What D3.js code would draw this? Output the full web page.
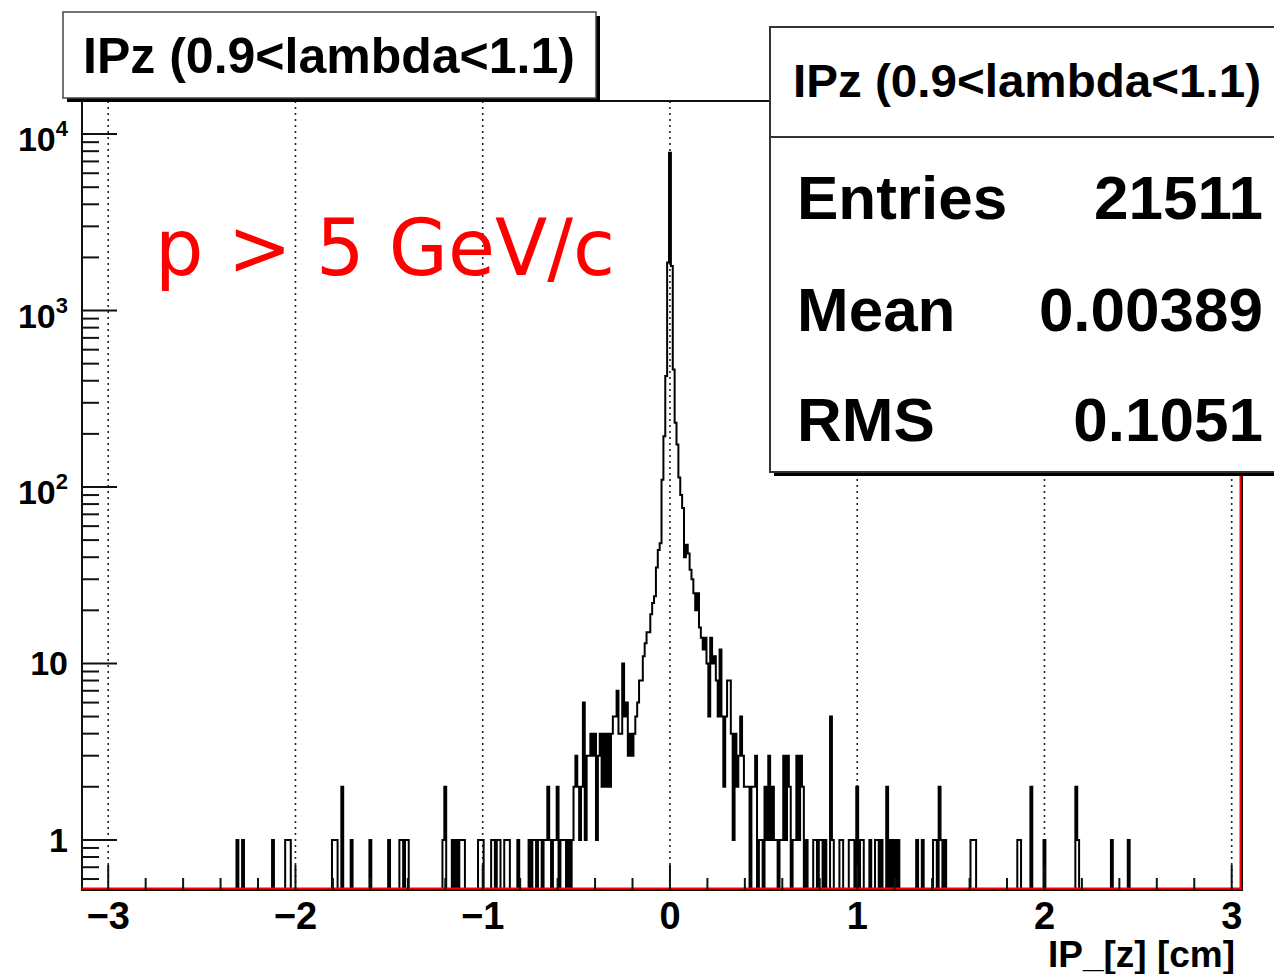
<!DOCTYPE html>
<html><head><meta charset="utf-8">
<script src="https://cdn.jsdelivr.net/npm/d3@7"></script>
<style>body{margin:0;background:#fff;} svg{display:block;}</style>
</head><body>
<svg id="c" width="1274" height="974"></svg>
<script>
// ---- data (bin centers in cm, counts) ----
const binCenters = [-2.31,-2.28,-2.12,-2.05,-2.04,-2.03,-1.80,-1.79,-1.78,-1.75,-1.70,-1.60,-1.50,-1.44,-1.43,-1.41,-1.40,
-1.21,-1.20,-1.16,-1.14,-1.12,-1.11,-1.10,-1.02,-1.01,-1.00,-0.95,-0.94,-0.92,-0.91,-0.88,-0.87,-0.86,-0.81,-0.75,-0.73,-0.72,
-0.70,-0.69,-0.67,-0.66,-0.65,-0.64,-0.62,-0.61,-0.60,-0.58,-0.57,-0.56,-0.54,-0.52,-0.51,-0.50,-0.49,-0.48,-0.47,-0.46,-0.45,
-0.44,-0.43,-0.42,-0.41,-0.40,-0.39,-0.38,-0.37,-0.36,-0.35,-0.34,-0.33,-0.32,-0.31,-0.30,-0.29,-0.28,-0.27,-0.26,-0.25,-0.24,
-0.23,-0.22,-0.21,-0.20,-0.19,-0.18,-0.17,-0.16,-0.15,-0.14,-0.13,-0.12,-0.11,-0.10,-0.09,-0.08,-0.07,-0.06,-0.05,-0.04,-0.03,
-0.02,-0.01,0.00,0.01,0.02,0.03,0.04,0.05,0.06,0.07,0.08,0.09,0.10,0.11,0.12,0.13,0.14,0.15,0.16,0.17,0.18,0.19,0.20,0.21,0.22,
0.23,0.24,0.25,0.26,0.27,0.28,0.29,0.30,0.31,0.32,0.33,0.34,0.35,0.36,0.37,0.38,0.39,0.40,0.41,0.42,0.44,0.45,0.46,0.48,0.49,
0.51,0.52,0.53,0.54,0.55,0.56,0.57,0.59,0.60,0.61,0.62,0.63,0.64,0.66,0.67,0.68,0.69,0.70,0.71,0.73,0.77,0.78,0.80,0.81,0.83,
0.86,0.87,0.91,0.92,0.96,0.97,0.98,1.00,1.02,1.03,1.07,1.10,1.11,1.13,1.16,1.18,1.20,1.22,1.32,1.35,1.41,1.42,1.44,1.45,1.47,
1.61,1.62,1.63,1.86,1.87,1.93,2.00,2.17,2.18,2.36,2.45,2.58,2.80];
const binCounts = [1,1,1,1,1,1,1,1,1,2,1,1,1,1,1,1,1,
1,2,1,1,1,1,1,1,1,1,1,1,1,1,1,1,1,1,1,1,1,
1,1,1,1,2,1,1,1,2,1,1,1,1,1,2,3,2,1,2,6,1,
3,3,4,3,4,1,3,4,2,4,2,4,2,4,5,5,7,4,4,10,5,
6,3,4,3,4,5,6,8,8,11,13,15,15,19,22,24,35,44,48,110,194,
425,1870,7850,1786,463,231,174,113,90,76,40,47,42,34,30,25,20,25,16,14,12,14,10,5,14,
10,11,8,5,12,5,2,5,8,8,4,1,4,2,3,5,3,2,2,2,2,2,3,1,1,
2,1,3,1,2,1,1,1,1,3,1,3,2,1,1,3,1,3,2,1,1,1,1,1,1,
5,1,1,1,1,1,1,2,1,1,1,1,1,1,2,1,1,1,1,1,1,1,2,
1,1,1,1,1,1,1,2,1,2,1,1,1];
const binWidth = 0.01;
const xRange = [-3.14, 3.055];
const yRange = [0.52, 15400];
const xTicks = [-3,-2,-1,0,1,2,3];
const xTickLabels = ["\u22123","\u22122","\u22121","0","1","2","3"];
const yTicks = [1,10,100,1000,10000];
const yTickBase = ["1","10","10","10","10"];
const yTickExp = ["","","2","3","4"];
const titleText = "IPz (0.9<lambda<1.1)";
const statNames = ["Entries","Mean","RMS"];
const statValues = ["21511","0.00389","0.1051"];
const annotation = "p > 5 GeV/c";
const xTitle = "IP_[z] [cm]";

// ---- layout ----
const F = "'Liberation Sans', Arial, Helvetica, sans-serif";
const L = 82, R = 1242, T = 101, B = 890;
const svg = d3.select("#c");
const x = d3.scaleLinear().domain(xRange).range([L, R]);
const y = d3.scaleLog().domain(yRange).range([B, T]);

svg.append("defs").append("clipPath").attr("id","fr")
  .append("rect").attr("x",L).attr("y",T).attr("width",R-L).attr("height",B-T);

// grid (vertical dotted)
svg.append("g").selectAll("line").data(xTicks).join("line")
  .attr("x1",d=>x(d)).attr("x2",d=>x(d)).attr("y1",T).attr("y2",B)
  .attr("stroke","#222").attr("stroke-width",1.6).attr("stroke-dasharray","2 4");

// histogram
const countByK = new Map();
binCenters.forEach((c,i)=>countByK.set(Math.round(c/binWidth), binCounts[i]));
const kMin = Math.floor(xRange[0]/binWidth)-1, kMax = Math.ceil(xRange[1]/binWidth)+1;
const p = d3.path();
p.moveTo(x(xRange[0]), B);
for (let k=kMin;k<=kMax;k++){
  const c = countByK.get(k)||0;
  const yy = c>0 ? y(c) : B;
  p.lineTo(x((k-0.5)*binWidth), yy);
  p.lineTo(x((k+0.5)*binWidth), yy);
}
svg.append("path").attr("d",p.toString()).attr("fill","none")
  .attr("stroke","#000").attr("stroke-width",2).attr("clip-path","url(#fr)");

// frame
svg.append("rect").attr("x",L).attr("y",T).attr("width",R-L).attr("height",B-T)
  .attr("fill","none").attr("stroke","#111").attr("stroke-width",2);
// red lines (bottom & right)
svg.append("line").attr("x1",L).attr("x2",R).attr("y1",B-1.5).attr("y2",B-1.5)
  .attr("stroke","#f00").attr("stroke-width",2);
svg.append("line").attr("x1",R-1.5).attr("x2",R-1.5).attr("y1",T).attr("y2",B-1.5)
  .attr("stroke","#f00").attr("stroke-width",2);

// y ticks (inside, from left axis)
const yMinor = [];
[0.1,1,10,100,1000].forEach(dec=>{ for(let m=2;m<=9;m++){ const v=dec*m; if(v>=yRange[0]&&v<=yRange[1]) yMinor.push(v);} });
svg.append("g").selectAll("line").data(yMinor).join("line")
  .attr("x1",L).attr("x2",L+17).attr("y1",d=>y(d)).attr("y2",d=>y(d))
  .attr("stroke","#111").attr("stroke-width",2);
svg.append("g").selectAll("line").data(yTicks).join("line")
  .attr("x1",L).attr("x2",L+35).attr("y1",d=>y(d)).attr("y2",d=>y(d))
  .attr("stroke","#111").attr("stroke-width",2);
const yl = svg.append("g").selectAll("text").data(yTicks).join("text")
  .attr("x",68).attr("y",(d,i)=>y(d)+(yTickExp[i]?17:12))
  .attr("text-anchor","end").attr("font-family",F).attr("font-weight","bold").attr("font-size",34);
yl.append("tspan").text((d,i)=>yTickBase[i]);
yl.append("tspan").attr("dy",-15).attr("font-size",22).text((d,i)=>yTickExp[i]);

// x ticks (inside, upward)
const xMinor = d3.range(-15,16).map(i=>i*0.2).filter(v=>Math.abs(v-Math.round(v))>1e-6 && v>xRange[0] && v<xRange[1]);
svg.append("g").selectAll("line").data(xMinor).join("line")
  .attr("x1",d=>x(d)).attr("x2",d=>x(d)).attr("y1",B).attr("y2",B-12)
  .attr("stroke","#111").attr("stroke-width",2);
svg.append("g").selectAll("line").data(xTicks).join("line")
  .attr("x1",d=>x(d)).attr("x2",d=>x(d)).attr("y1",B).attr("y2",B-25)
  .attr("stroke","#111").attr("stroke-width",2);
svg.append("g").selectAll("text").data(xTicks).join("text")
  .attr("x",d=>x(d)).attr("y",929).attr("text-anchor","middle")
  .attr("font-family",F).attr("font-weight","bold").attr("font-size",38)
  .text((d,i)=>xTickLabels[i]);
svg.append("text").attr("x",1235).attr("y",967).attr("text-anchor","end")
  .attr("font-family",F).attr("font-weight","bold").attr("font-size",37).text(xTitle);

// stats box
svg.append("rect").attr("x",774).attr("y",31).attr("width",520).attr("height",445).attr("fill","#000");
svg.append("rect").attr("x",770).attr("y",27).attr("width",520).attr("height",445)
  .attr("fill","#fff").attr("stroke","#333").attr("stroke-width",2);
svg.append("line").attr("x1",770).attr("x2",1290).attr("y1",137).attr("y2",137)
  .attr("stroke","#333").attr("stroke-width",2);
svg.append("text").attr("x",1027).attr("y",97).attr("text-anchor","middle")
  .attr("font-family",F).attr("font-weight","bold").attr("font-size",47)
  .attr("textLength",468).attr("lengthAdjust","spacingAndGlyphs").text(titleText);
const rowY = [219, 331, 441];
svg.append("g").selectAll("text").data(statNames).join("text")
  .attr("x",797).attr("y",(d,i)=>rowY[i]).attr("font-family",F).attr("font-weight","bold")
  .attr("font-size",62).text(d=>d);
svg.append("g").selectAll("text").data(statValues).join("text")
  .attr("x",1263).attr("y",(d,i)=>rowY[i]).attr("text-anchor","end").attr("font-family",F)
  .attr("font-weight","bold").attr("font-size",62).text(d=>d);

// title box
svg.append("rect").attr("x",67).attr("y",16).attr("width",533).attr("height",86).attr("fill","#000");
svg.append("rect").attr("x",63).attr("y",12).attr("width",533).attr("height",86)
  .attr("fill","#fff").attr("stroke","#444").attr("stroke-width",1.5);
svg.append("text").attr("x",329).attr("y",73).attr("text-anchor","middle")
  .attr("font-family",F).attr("font-weight","bold").attr("font-size",50).text(titleText);

// annotation
svg.append("text").attr("x",155).attr("y",275).attr("fill","#ff0000")
  .attr("font-family","'DejaVu Sans', Verdana, sans-serif").attr("font-size",79)
  .attr("textLength",460).attr("lengthAdjust","spacingAndGlyphs").text(annotation);
</script>
</body></html>
